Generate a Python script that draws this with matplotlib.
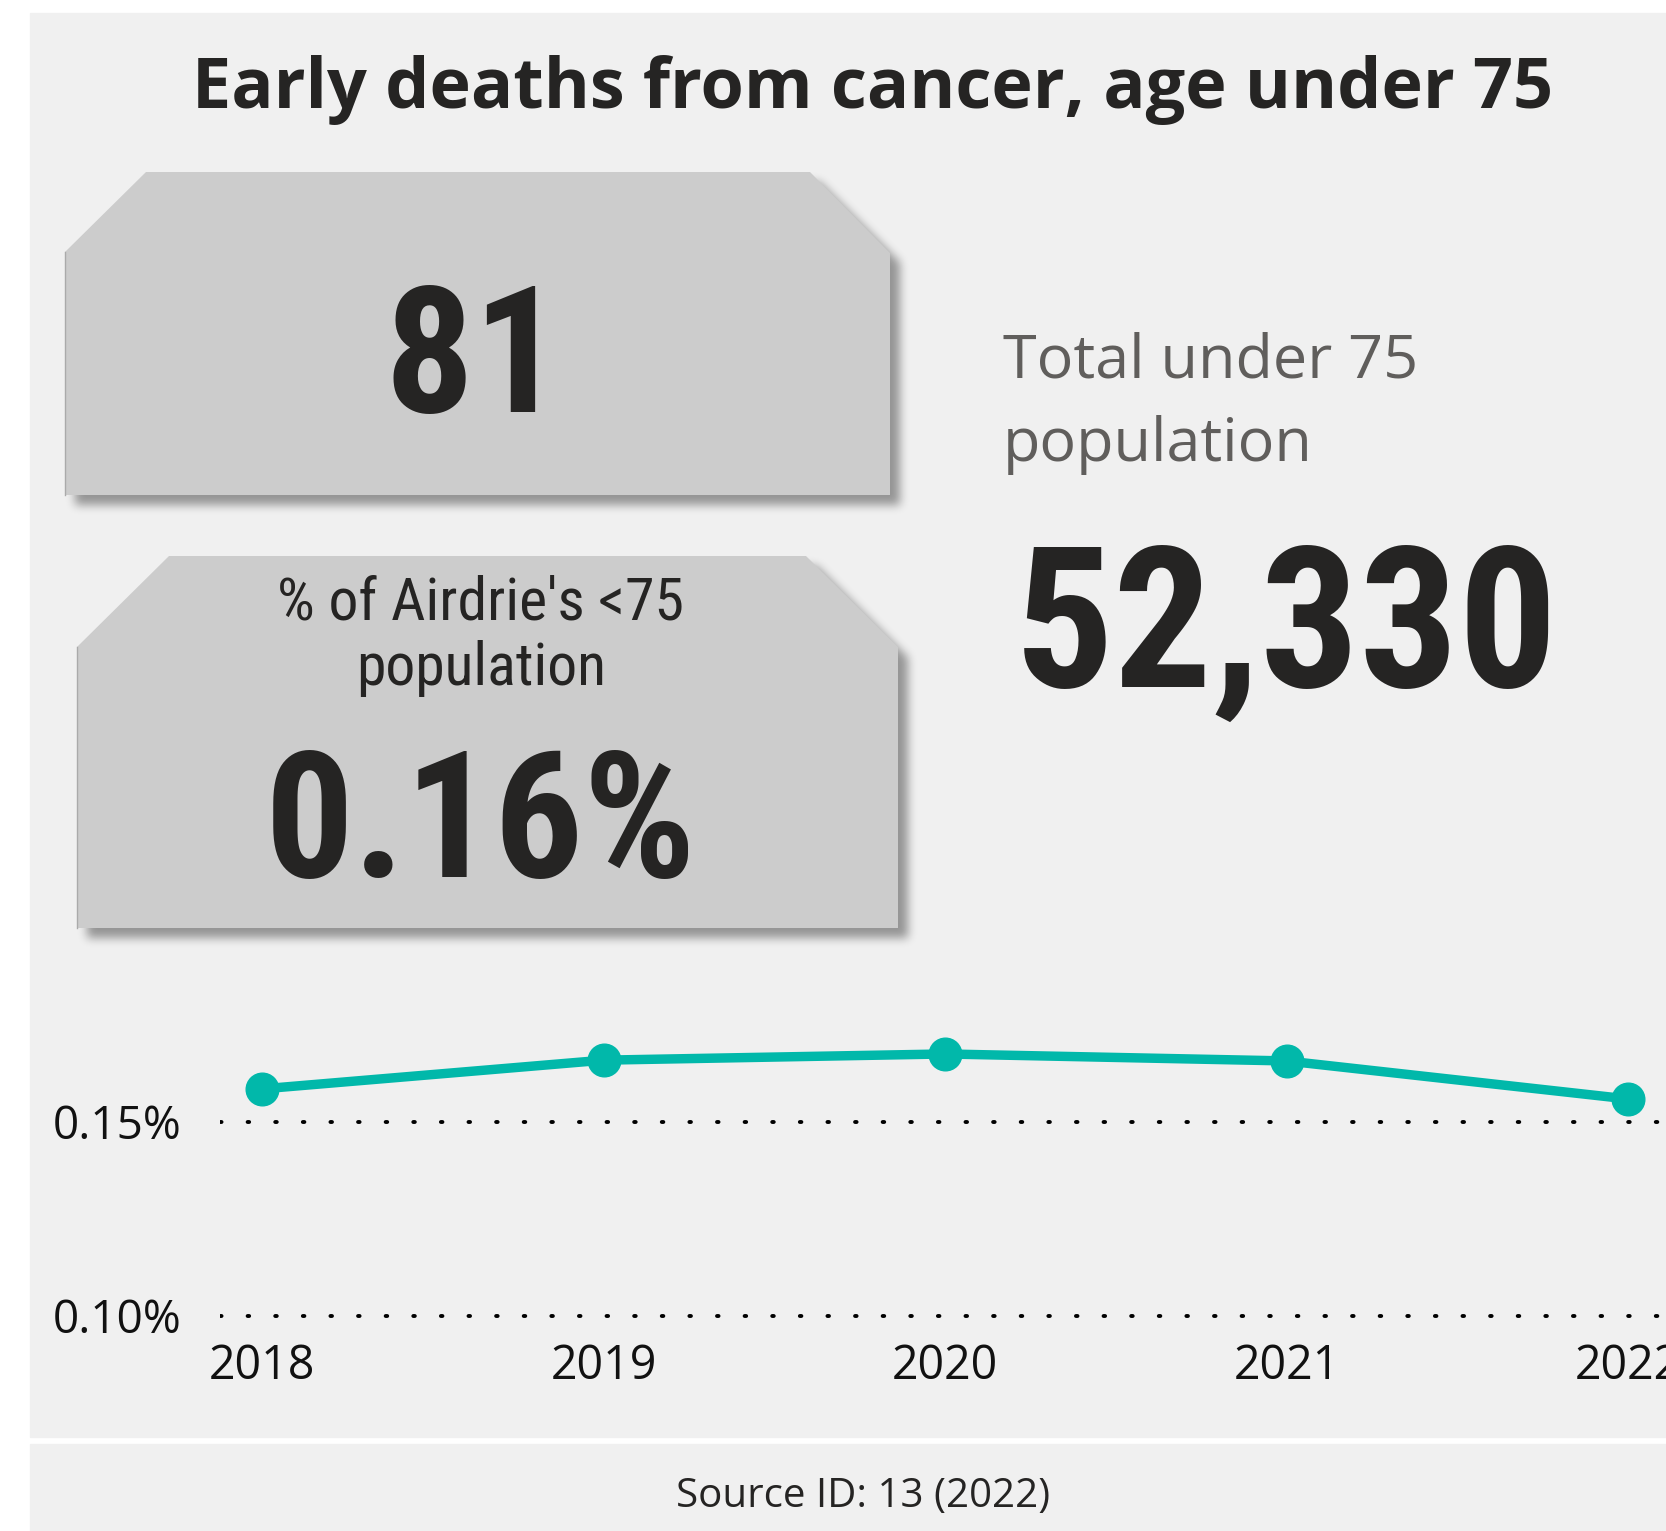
import numpy as np
import matplotlib
matplotlib.use('Agg')
import matplotlib.pyplot as plt
from matplotlib.patches import Polygon, Rectangle
from matplotlib.path import Path
from matplotlib import font_manager

# data
years = [2018, 2019, 2020, 2021, 2022]
pct_under75 = [0.1584, 0.1658, 0.1674, 0.1656, 0.1558]
y_ticks = [0.10, 0.15]
y_tick_labels = ['0.10%', '0.15%']

title = 'Early deaths from cancer, age under 75'
kpi_deaths = '81'
kpi_pct_label = ["% of Airdrie's <75", 'population']
kpi_pct = '0.16%'
pop_label = ['Total under 75', 'population']
pop_total = 52330
source = 'Source ID: 13 (2022)'

# fonts
names = {f.name for f in font_manager.fontManager.ttflist}
din = 'Roboto'
for cand in ['Roboto Condensed', 'Liberation Sans Narrow', 'DejaVu Sans Condensed']:
    if cand in names:
        din = cand
        break
segoe = 'Open Sans'

W, H = 1666, 1531
fig = plt.figure(figsize=(W / 100, H / 100), dpi=100)
fig.patch.set_facecolor('white')

# background axes in pixel coords
bg = fig.add_axes([0, 0, 1, 1])
bg.set_xlim(0, W)
bg.set_ylim(H, 0)
bg.axis('off')

bg.add_patch(Rectangle((30, 13), W - 30, 1437 - 13, color='#F0F0F0', zorder=0))
bg.add_patch(Rectangle((30, 1444), W - 30, H - 1444, color='#F0F0F0', zorder=0))

box1 = np.array([[146, 172], [810, 172], [890, 253], [890, 495], [65, 495], [65, 252]])
box2 = np.array([[169, 556], [806, 556], [898, 647], [898, 928], [77, 928], [77, 647]])

# soft drop shadow
yy, xx = np.mgrid[0:H, 0:W]
pts = np.column_stack([xx.ravel() + 0.5, yy.ravel() + 0.5])
mask = np.zeros(H * W)
for b in (box1, box2):
    mask += Path(b + [10, 10]).contains_points(pts)
mask = mask.reshape(H, W).clip(0, 1)


def box_blur(a, r, axis):
    a = np.moveaxis(a, axis, -1)
    p = np.pad(a, [(0, 0), (r + 1, r)])
    c = np.cumsum(p, axis=-1)
    out = (c[..., 2 * r + 1:] - c[..., :-(2 * r + 1)]) / (2 * r + 1)
    return np.moveaxis(out, -1, axis)


for _ in range(3):
    mask = box_blur(mask, 4, 0)
    mask = box_blur(mask, 4, 1)
shadow = np.zeros((H, W, 4))
shadow[..., 3] = 0.38 * mask
bg.imshow(shadow, extent=(0, W, H, 0), zorder=1, interpolation='nearest')

for b in (box1, box2):
    bg.add_patch(Polygon(b, closed=True, facecolor='#CCCCCC', edgecolor='none', zorder=2))
    bg.plot([b[-1][0], b[-2][0]], [b[-1][1], b[-2][1]], color='#AAAAAA', lw=1, zorder=3)

dark = '#252423'
bg.text(873, 108, title, ha='center', va='baseline', fontsize=50.5,
        fontweight='bold', family=segoe, color=dark, zorder=4)
bg.text(474, 412, kpi_deaths, ha='center', va='baseline', fontsize=127,
        fontweight='bold', family=din, color=dark, zorder=4)
bg.text(481, 620, kpi_pct_label[0], ha='center', va='baseline', fontsize=43,
        family=din, color=dark, zorder=4)
bg.text(481, 685, kpi_pct_label[1], ha='center', va='baseline', fontsize=43,
        family=din, color=dark, zorder=4)
bg.text(481, 877, kpi_pct, ha='center', va='baseline', fontsize=127,
        fontweight='bold', family=din, color=dark, zorder=4)
bg.text(1003, 377, pop_label[0], ha='left', va='baseline', fontsize=44,
        family=segoe, color='#605E5C', zorder=4)
bg.text(1003, 461, pop_label[1], ha='left', va='baseline', fontsize=44,
        family=segoe, color='#605E5C', zorder=4)
bg.text(1015, 687, f'{pop_total:,}', ha='left', va='baseline', fontsize=141,
        fontweight='bold', family=din, color=dark, zorder=4)
bg.text(863, 1507, source, ha='center', va='baseline', fontsize=29,
        family=segoe, color=dark, zorder=4)

# line chart axes, placed by pixel anchors
ax_l, ax_r, ax_t, ax_b = 220, W, 1000, 1330
ax = fig.add_axes([ax_l / W, (H - ax_b) / H, (ax_r - ax_l) / W, (ax_b - ax_t) / H])
ax.patch.set_alpha(0)
px_per_year = (1628 - 262) / 4
ax.set_xlim(2018 - (262 - ax_l) / px_per_year, 2022 + (ax_r - 1628) / px_per_year)
px_per_unit = (1315.6 - 1121.5) / 0.05
ax.set_ylim(0.10 - (ax_b - 1315.6) / px_per_unit, 0.15 + (1121.5 - ax_t) / px_per_unit)

for v in y_ticks:
    ax.axhline(v, color='black', lw=2.8, linestyle=(0, (0.4, 6.7)),
               dash_capstyle='round', zorder=1)
ax.plot(years, pct_under75, color='#01B8AA', lw=6.8, marker='o', markersize=23.5,
        solid_capstyle='round', zorder=3, clip_on=False)

ax.set_xticks(years)
ax.set_xticklabels([str(y) for y in years], fontsize=33.5, family=segoe, color='#111111')
ax.set_yticks(y_ticks)
ax.set_yticklabels(y_tick_labels, fontsize=33, family=segoe, color='#111111')
ax.tick_params(axis='x', length=0, pad=9)
ax.tick_params(axis='y', length=0, pad=28)
for s in ax.spines.values():
    s.set_visible(False)

fig.savefig('out.png', dpi=100, facecolor='white')
